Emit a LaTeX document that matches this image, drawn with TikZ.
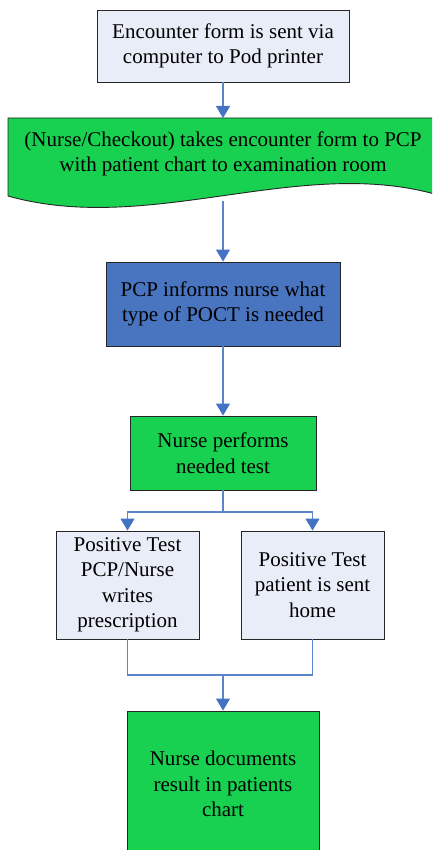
\documentclass[tikz,border=0pt]{standalone}
\usepackage{fontspec}
\setmainfont{Liberation Serif}
\newfontfamily\labelface{Liberation Serif}
\usetikzlibrary{arrows.meta}
\definecolor{paleblue}{HTML}{E8EDF7}
\definecolor{flowgreen}{HTML}{19D150}
\definecolor{stepblue}{HTML}{4874C0}
\definecolor{linkblue}{HTML}{5B84CA}
\definecolor{tipblue}{HTML}{4472C4}
\tikzset{
  txt/.style={align=center, font=\labelface\fontsize{21}{25.5}\selectfont},
  box/.style={txt, draw=black!85, line width=0.9pt, inner sep=2pt},
  conn/.style={draw=linkblue, line width=1.1pt},
  arr/.style={conn, -{Triangle[width=14pt,length=12pt,fill=tipblue,color=tipblue]}}
}
\begin{document}
\begin{tikzpicture}[x=1pt,y=-1pt]
  \clip (0,0) rectangle (432,850);
  \fill[white] (0,0) rectangle (432,850);

  % step 1
  \node[box, fill=paleblue, minimum width=252pt, minimum height=72pt] (n1) at (223,46)
    {Encounter form is sent via\\computer to Pod printer};

  % document-shaped step
  \draw[fill=flowgreen, draw=black!85, line width=0.9pt]
    (8,118) -- (438,118) -- (438,195)
    .. controls (300,155) and (150,236) .. (8,196) -- cycle;
  \coordinate (doctop) at (223,118);
  \coordinate (docbot) at (223,201);
  \node[txt] (doc) at (223,154)
    {(Nurse/Checkout) takes encounter form to PCP\\with patient chart to examination room};

  % step 3
  \node[box, fill=stepblue, minimum width=234pt, minimum height=84pt] (n3) at (223,304)
    {PCP informs nurse what\\type of POCT is needed};

  % step 4
  \node[box, fill=flowgreen, minimum width=186pt, minimum height=74pt] (n4) at (223,453)
    {Nurse performs\\needed test};

  % outcomes
  \node[box, fill=paleblue, minimum width=143pt, minimum height=108pt] (n5) at (127.5,585)
    {Positive Test\\PCP/Nurse\\writes\\prescription};
  \node[box, fill=paleblue, minimum width=143pt, minimum height=108pt] (n6) at (312.5,585)
    {Positive Test\\patient is sent\\home};

  % final step
  \node[box, fill=flowgreen, minimum width=192pt, minimum height=146pt] (n7) at (223,784)
    {Nurse documents\\result in patients\\chart};

  % connectors
  \coordinate (split) at (223,512);
  \coordinate (join) at (223,675);
  \draw[arr] (n1.south) -- (doctop);
  \draw[arr] (docbot) -- (n3.north);
  \draw[arr] (n3.south) -- (n4.north);
  \draw[conn] (n4.south) -- (split);
  \draw[arr] (split) -| (n5.north);
  \draw[arr] (split) -| (n6.north);
  \draw[conn] (n5.south) |- (join);
  \draw[conn] (n6.south) |- (join);
  \draw[arr] (join) -- (n7.north);
\end{tikzpicture}
\end{document}
